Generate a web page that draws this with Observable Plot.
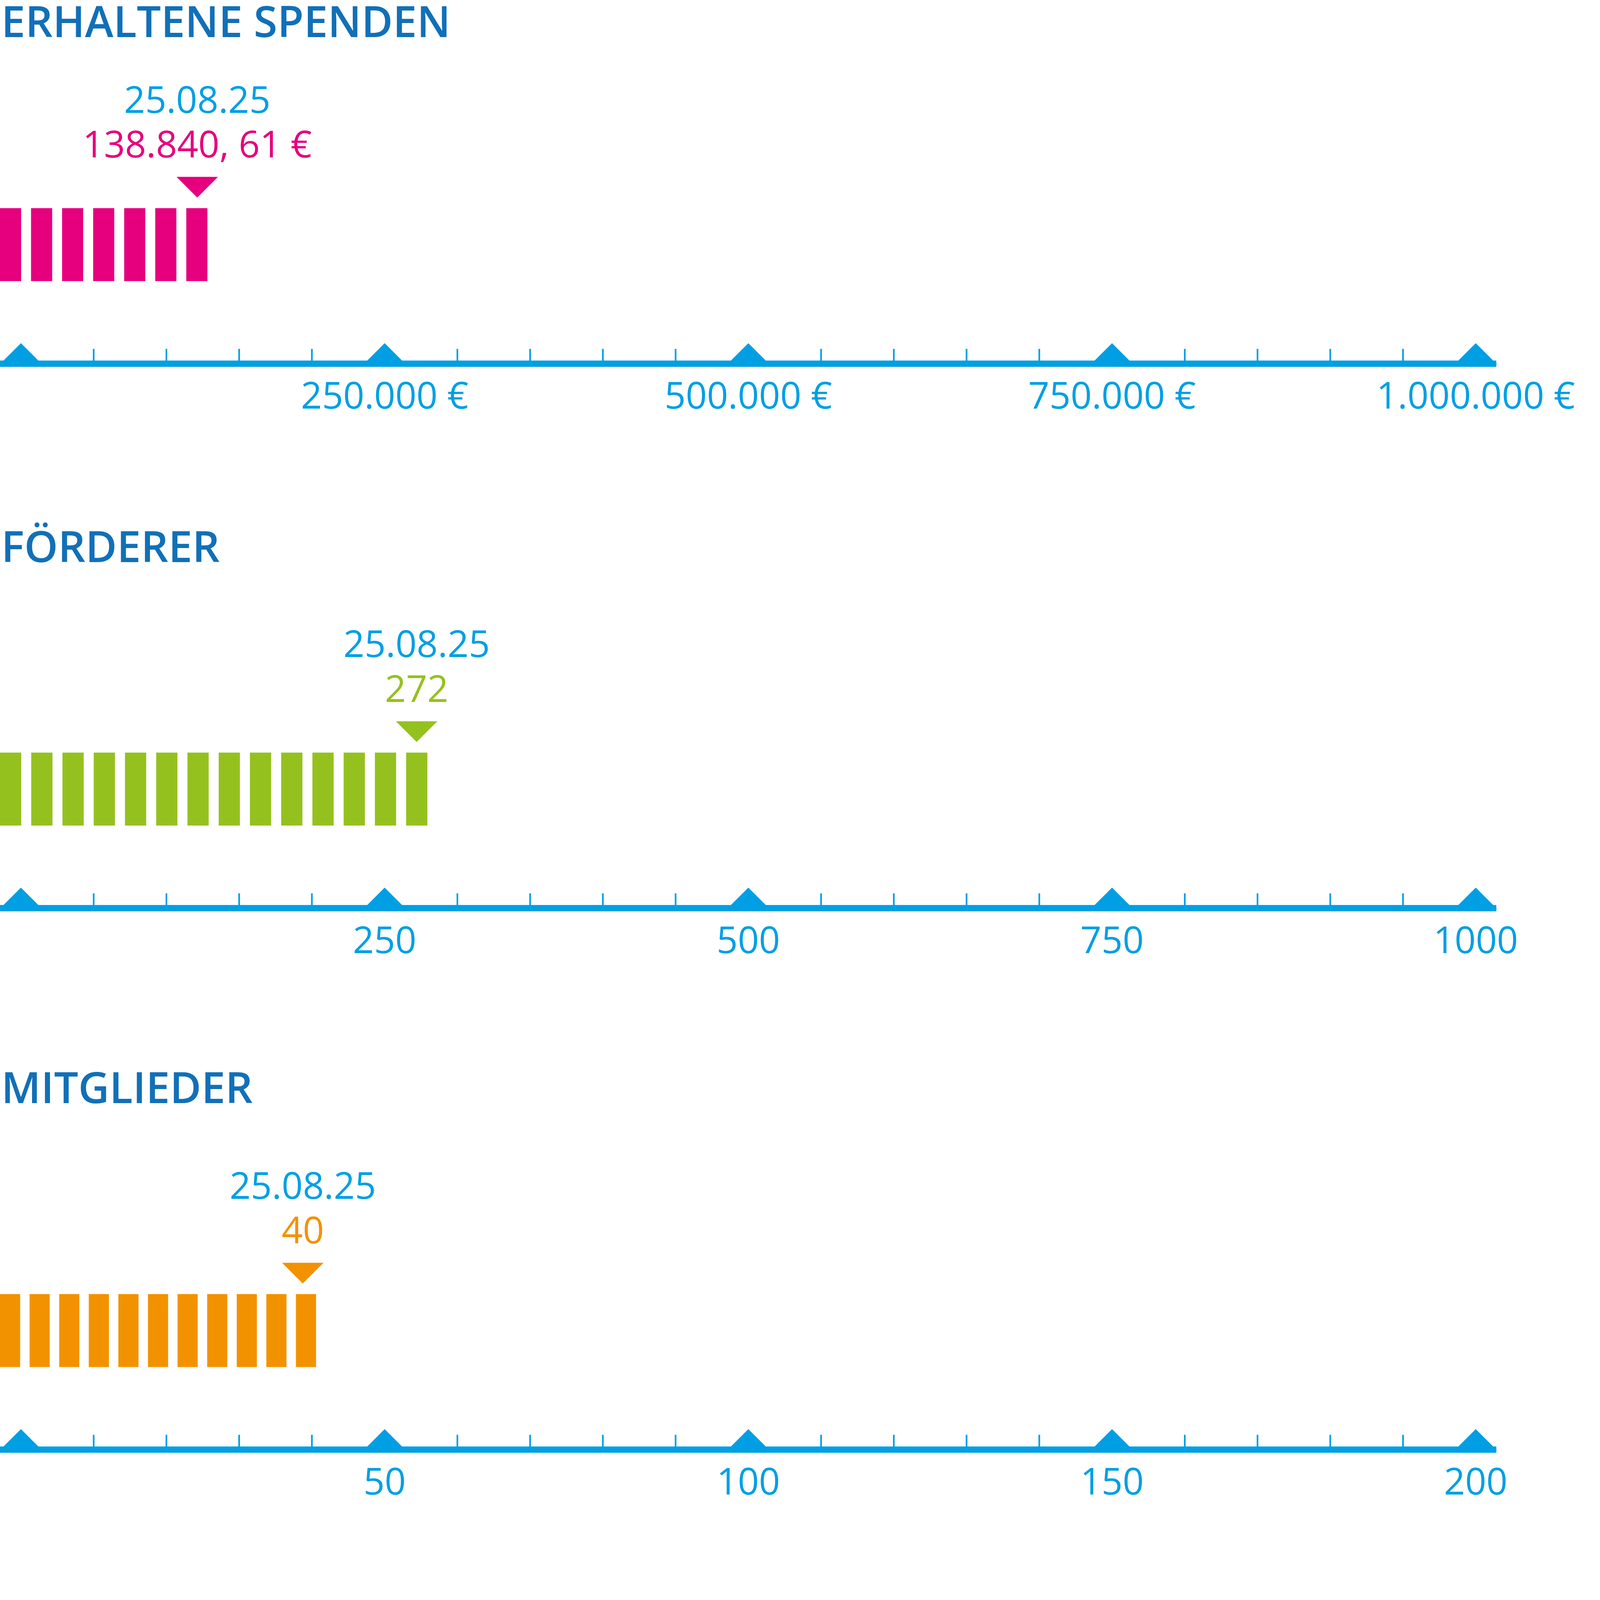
<!DOCTYPE html>
<html><head><meta charset="utf-8">
<script src="https://cdn.jsdelivr.net/npm/d3@7"></script>
<script src="https://cdn.jsdelivr.net/npm/@observablehq/plot@0.6"></script>
<style>
html,body{margin:0;padding:0;background:#fff;overflow:hidden;}
#page{position:absolute;left:0;top:0;width:4320px;height:4142px;overflow:hidden;background:#fff;transform-origin:0 0;}
#page svg{position:absolute;left:0;overflow:visible;}
</style></head><body><div id="page"></div>
<script>
// ---- data ----
const titles = ["ERHALTENE SPENDEN", "FÖRDERER", "MITGLIEDER"];
const dateLabel = "25.08.25";
const values = [138840.61, 272, 40];
const valueLabels = ["138.840, 61 €", "272", "40"];
const markerAt = [121200, 272, 38.75];      // marker position read on the scale
const barEnd = [128300, 279.5, 40.6];        // right end of the striped bar
const barCounts = [7, 14, 11];
const domainMax = [1000000, 1000, 200];
const majorTicks = [
  [0, 250000, 500000, 750000, 1000000],
  [0, 250, 500, 750, 1000],
  [0, 50, 100, 150, 200]
];
const labelTicks = [
  [250000, 500000, 750000, 1000000],
  [250, 500, 750, 1000],
  [50, 100, 150, 200]
];
const tickLabels = [
  ["250.000 €", "500.000 €", "750.000 €", "1.000.000 €"],
  ["250", "500", "750", "1000"],
  ["50", "100", "150", "200"]
];
const seriesColors = ["#E6007E", "#95C11F", "#F39200"];

// ---- style / layout ----
const TITLE = "#1170B8", BLUE = "#009FE3";
const W = 4320, H = 4142, ML = 56, MR = 336;
const axisY = [982, 2452, 3913.5];
const titleOffset = [-882, -935, -936.5];
const FONT = "Open Sans";
const page = document.getElementById("page");

function fit() {
  const s = Math.min(document.documentElement.clientWidth / W, window.innerHeight / H);
  page.style.transform = `scale(${s})`;
}
fit();
window.addEventListener("resize", fit);

const downTri = {draw(ctx, size) { const r = Math.sqrt(size / Math.PI);
  ctx.moveTo(-r, -r / 2); ctx.lineTo(r, -r / 2); ctx.lineTo(0, r / 2); ctx.closePath(); }};
const upTri = {draw(ctx, size) { const r = Math.sqrt(size / Math.PI);
  ctx.moveTo(-r - 10, 10); ctx.lineTo(0, -r); ctx.lineTo(r + 10, 10); ctx.closePath(); }};

titles.forEach((title, k) => {
  const L = axisY[k], max = domainMax[k], color = seriesColors[k];
  const inner = W - ML - MR;
  // bar segments from the left edge to the bar end
  const lo = -ML / inner * max;
  const gap = 0.32, n = barCounts[k];
  const p = (barEnd[k] - lo) / (n - gap);
  const segs = d3.range(n).map(i => ({x1: lo + i * p, x2: lo + i * p + (1 - gap) * p}));

  const topA = L - 1000, mTop = 580, barH = 197;
  const plotA = Plot.plot({
    width: W, height: mTop + barH, marginLeft: ML, marginRight: MR, marginTop: mTop, marginBottom: 0,
    x: {domain: [0, max], axis: null},
    style: {fontFamily: FONT, background: "transparent", overflow: "visible"},
    marks: [
      Plot.text([title], {x: null, y: null, text: d => d, frameAnchor: "top-left", dx: -ML + 3,
        dy: titleOffset[k] + 420, lineAnchor: "bottom", textAnchor: "start",
        fontSize: 116, fontWeight: 600, fill: TITLE}),
      Plot.text([markerAt[k]], {x: d => d, text: () => dateLabel, frameAnchor: "top", dy: -258,
        lineAnchor: "bottom", fontSize: 100, fill: BLUE}),
      Plot.text([markerAt[k]], {x: d => d, text: () => valueLabels[k], frameAnchor: "top", dy: -137,
        lineAnchor: "bottom", fontSize: 100, fill: color}),
      Plot.dot([markerAt[k]], {x: d => d, frameAnchor: "top", dy: -57, r: 56, symbol: downTri,
        fill: color, stroke: "none"}),
      Plot.barX(segs, {x1: "x1", x2: "x2", fill: color})
    ]
  });
  plotA.style.top = topA + "px";
  page.appendChild(plotA);

  const labelMap = new Map(labelTicks[k].map((t, i) => [t, tickLabels[k][i]]));
  const minor = d3.range(1, 20).filter(i => i % 5).map(i => i * max / 20);
  const topB = L - 80, mTopB = 40, frameH = 48.5;
  const plotB = Plot.plot({
    width: W, height: 280, marginLeft: ML, marginRight: MR, marginTop: mTopB, marginBottom: 280 - mTopB - frameH,
    x: {domain: [0, max]},
    style: {fontFamily: FONT, background: "transparent", overflow: "visible"},
    marks: [
      Plot.barX([[0, max]], {x1: d => d[0], x2: d => d[1], insetLeft: -ML, insetRight: -ML,
        insetTop: frameH - 17, fill: BLUE}),
      Plot.tickX(minor, {x: d => d, stroke: BLUE, strokeWidth: 4.5, insetBottom: 16}),
      Plot.dot(majorTicks[k], {x: d => d, frameAnchor: "bottom", dy: -17, r: 47.5, symbol: upTri,
        fill: BLUE, stroke: "none"}),
      Plot.axisX({ticks: labelTicks[k], tickSize: 0, tickPadding: 41.5, tickFormat: d => labelMap.get(d),
        color: BLUE, fontSize: 100, label: null})
    ]
  });
  plotB.style.top = topB + "px";
  page.appendChild(plotB);
});
</script></body></html>
